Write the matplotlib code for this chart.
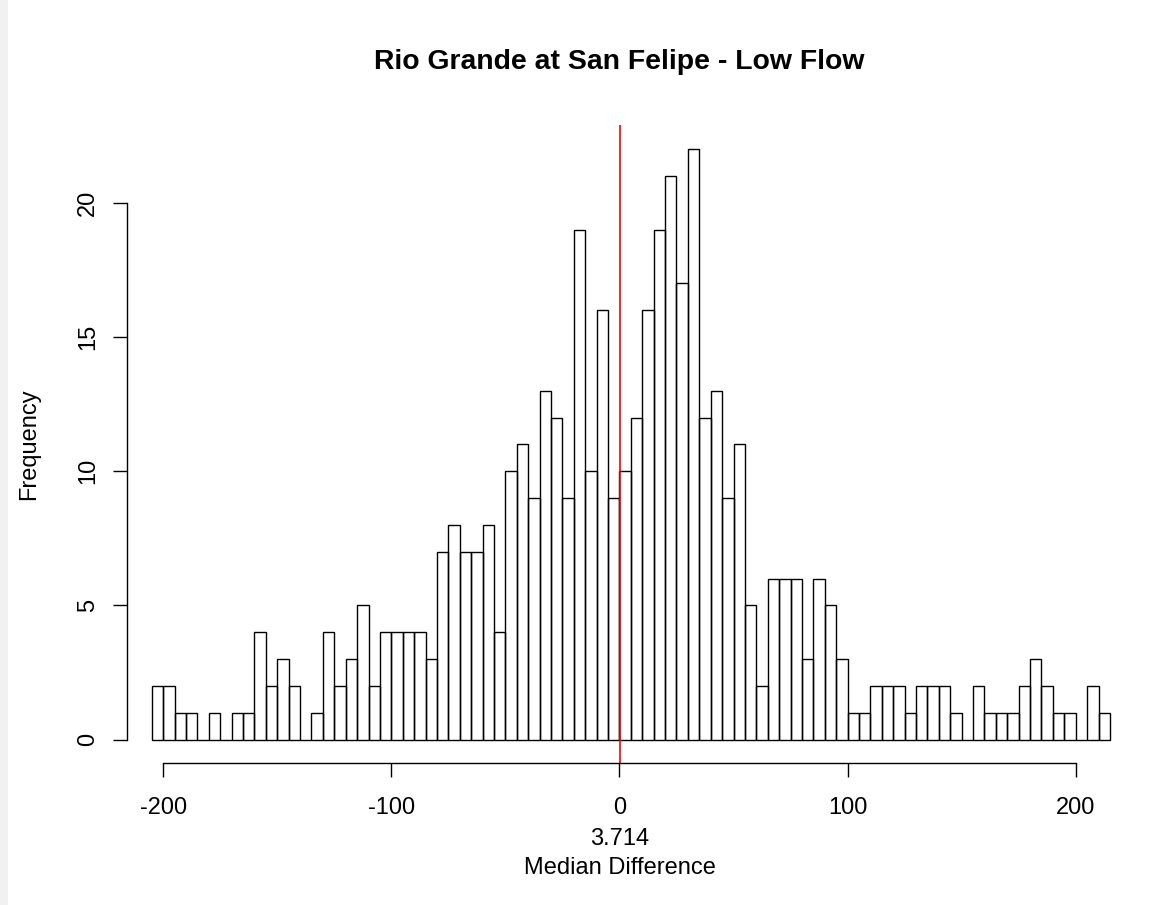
"""
Histogram of median differences, drawn in the style of base R graphics.
"""
import numpy as np
import matplotlib
matplotlib.use("Agg")
import matplotlib.pyplot as plt
from matplotlib.patches import Rectangle

plt.rcParams.update({
    "font.family": ["Liberation Sans", "DejaVu Sans"],
    "font.size": 17,
})

# Data: counts per 5-unit bin, bins run from -205 to 215
bin_lo = -205
bin_width = 5
counts = [2, 2, 1, 1, 0, 1, 0, 1, 1, 4,
          2, 3, 2, 0, 1, 4, 2, 3, 5, 2,
          4, 4, 4, 4, 3, 7, 8, 7, 7, 8,
          4, 10, 11, 9, 13, 12, 9, 19, 10, 16,
          9, 10, 12, 16, 19, 21, 17, 22, 12, 13,
          9, 11, 5, 2, 6, 6, 6, 3, 6, 5,
          3, 1, 1, 2, 2, 2, 1, 2, 2, 2,
          1, 0, 2, 1, 1, 1, 2, 3, 2, 1,
          1, 0, 2, 1]
median_line = 0.3
median_label = "3.714"
x_ticks = [-200, -100, 0, 100, 200]
y_ticks = [0, 5, 10, 15, 20]
title = "Rio Grande at San Felipe - Low Flow"

W, H = 1156, 905
fig = plt.figure(figsize=(W / 100, H / 100), dpi=100)

# faint screenshot border on the left edge
fig.patches.append(Rectangle((0, 0), 8 / W, 1, transform=fig.transFigure,
                             facecolor="#f1f1f1", edgecolor="none", zorder=0))

# plot region in pixels (left, top, right, bottom)
px_l, px_t, px_r, px_b = 126.7, 125.4, 1112.2, 763.3
ax = fig.add_axes([px_l / W, 1 - px_b / H, (px_r - px_l) / W, (px_b - px_t) / H])
ax.patch.set_alpha(0)

lefts = bin_lo + bin_width * np.arange(len(counts))
ax.bar(lefts, counts, width=bin_width, align="edge", fill=False,
       edgecolor="black", linewidth=1.0)
ax.axvline(median_line, color="red", linewidth=1.2)

ax.set_xlim(-216, 216)
ax.set_ylim(-0.88, 22.88)

for s in ("top", "right"):
    ax.spines[s].set_visible(False)
ax.spines["bottom"].set_bounds(x_ticks[0], x_ticks[-1])
ax.spines["left"].set_bounds(y_ticks[0], y_ticks[-1])
ax.spines["bottom"].set_linewidth(1.0)
ax.spines["left"].set_linewidth(1.0)

ax.set_xticks(x_ticks)
ax.set_xticklabels([str(v) for v in x_ticks])
ax.set_yticks(y_ticks)
ax.set_yticklabels([str(v) for v in y_ticks], rotation=90, va="center")
ax.tick_params(axis="both", direction="out", length=10, width=1.0, labelsize=17)
ax.tick_params(axis="x", pad=14)
ax.tick_params(axis="y", pad=10)

cx = (px_l + px_r) / 2
fig.text(cx / W, 1 - 69 / H, title, ha="center", va="baseline",
         fontsize=20.4, fontweight="bold")
fig.text(cx / W, 1 - 845.3 / H, median_label, ha="center", va="baseline")
fig.text(cx / W, 1 - 874 / H, "Median Difference", ha="center", va="baseline")
fig.text(35.5 / W, 1 - 444 / H, "Frequency", rotation=90, rotation_mode="anchor",
         ha="center", va="baseline")

fig.savefig("out.png", dpi=100)
